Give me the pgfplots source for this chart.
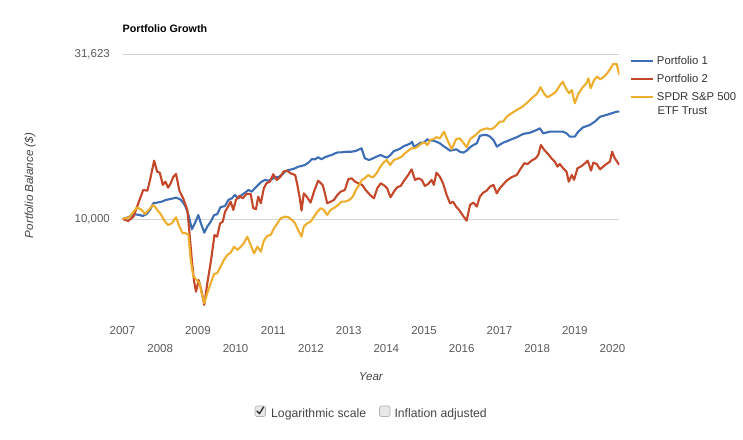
\documentclass[border=0pt]{standalone}
\usepackage{fontspec}
\setmainfont{Liberation Sans}
\usepackage{pgfplots}
\pgfplotsset{compat=1.18}

\definecolor{pfblue}{HTML}{3C6DB5}
\definecolor{pfred}{HTML}{C4472A}
\definecolor{pfgold}{HTML}{EDAE2E}
\definecolor{ticktext}{HTML}{5A5A5A}
\definecolor{labeltext}{HTML}{444444}
\definecolor{legendtext}{HTML}{333333}
\definecolor{gridgray}{HTML}{D4D4D4}

\newcommand{\tickfont}{\fontsize{11.5bp}{13bp}\selectfont}

\begin{document}
\begin{tikzpicture}
\path[use as bounding box] (0,0) rectangle (743bp,440bp);

% chart title
\node[anchor=base west, inner sep=0pt, font=\bfseries\fontsize{10.7bp}{12bp}\selectfont]
  at (122.5bp,407.9bp) {Portfolio Growth};

\begin{axis}[
  at={(122.5bp,121.7bp)}, anchor=south west,
  scale only axis, width=496.8bp, height=264.3bp,
  xmin=2007, xmax=2020.18,
  ymode=log, ymin=5000, ymax=31623,
  axis line style={draw=none}, tick style={draw=none},
  ytick={10000,31623}, yticklabels={{10,000},{31,623}},
  ymajorgrids, grid style={gridgray, line width=0.9bp},
  yticklabel style={anchor=east, inner sep=0pt, xshift=-12.5bp, font=\tickfont, text=ticktext},
  xtick={2007,2009,2011,2013,2015,2017,2019},
  xticklabels={2007,2009,2011,2013,2015,2017,2019},
  extra x ticks={2008,2010,2012,2014,2016,2018,2020},
  extra x tick labels={2008,2010,2012,2014,2016,2018,2020},
  extra x tick style={xticklabel style={yshift=-17.3bp}},
  xticklabel style={anchor=center, inner sep=0pt, yshift=-12.7bp, font=\tickfont, text=ticktext},
  xlabel={Year},
  xlabel style={at={(axis description cs:0.5,0)}, anchor=center, yshift=-58.7bp,
    font=\itshape\fontsize{11.6bp}{13bp}\selectfont, text=labeltext},
  legend style={at={(axis description cs:1,1)}, anchor=north west, xshift=10.7bp, yshift=-0.4bp,
    draw=none, fill=none, inner sep=0pt, row sep=4.1bp,
    font=\fontsize{11.3bp}{13bp}\selectfont, text=legendtext,
    cells={anchor=west, inner sep=0pt, text height=8.2bp, text depth=2.2bp},
    /tikz/every odd column/.append style={column sep=1bp}},
  legend image code/.code={\draw[#1, line width=2.1bp] (0bp,0bp) -- (21.7bp,0bp);},
  every axis plot/.append style={line width=2.1bp, line join=round},
]

\addplot[pfblue] coordinates {
(2007.00,10000) (2007.20,10160) (2007.33,10330) (2007.45,10280) (2007.54,10210) (2007.64,10355)
(2007.73,10650) (2007.82,11160) (2007.92,11210) (2008.04,11280) (2008.15,11420) (2008.28,11500)
(2008.42,11600) (2008.53,11470) (2008.61,11210) (2008.68,10850) (2008.75,10280) (2008.84,9310)
(2008.92,9700) (2009.01,10280) (2009.08,9700) (2009.17,9090) (2009.25,9480) (2009.34,9810)
(2009.43,10280) (2009.51,10330) (2009.60,10850) (2009.72,10950) (2009.81,11420) (2009.90,11550)
(2009.98,11820) (2010.07,11550) (2010.16,11820) (2010.25,12010) (2010.34,12240) (2010.43,12100)
(2010.51,12390) (2010.60,12680) (2010.69,12970) (2010.78,13130) (2010.87,13060) (2010.96,13190)
(2011.05,13380) (2011.13,13380) (2011.22,13590) (2011.31,13910) (2011.40,14070) (2011.49,14140)
(2011.58,14240) (2011.66,14400) (2011.75,14470) (2011.84,14580) (2011.93,14810) (2012.02,15170)
(2012.11,15170) (2012.19,15380) (2012.28,15170) (2012.37,15380) (2012.46,15520) (2012.55,15630)
(2012.64,15810) (2012.72,15920) (2012.81,15920) (2012.95,15990) (2013.08,15990) (2013.19,16070)
(2013.34,16380) (2013.43,15270) (2013.54,15090) (2013.65,15270) (2013.74,15450) (2013.85,15630)
(2013.94,15450) (2014.02,15340) (2014.11,15630) (2014.20,16070) (2014.29,16180) (2014.38,16380)
(2014.47,16640) (2014.55,16760) (2014.64,16950) (2014.68,17140) (2014.73,16570) (2014.82,16760)
(2014.91,17030) (2015.00,17030) (2015.09,17440) (2015.16,17270) (2015.24,17270) (2015.33,17140)
(2015.42,16950) (2015.51,16640) (2015.60,16380) (2015.69,16100) (2015.77,16180) (2015.86,16260)
(2015.95,15990) (2016.04,15880) (2016.13,16100) (2016.22,16490) (2016.31,16760) (2016.40,16950)
(2016.48,17850) (2016.57,17970) (2016.66,17970) (2016.75,17760) (2016.84,17360) (2016.93,16570)
(2017.10,17030) (2017.28,17360) (2017.46,17690) (2017.63,18100) (2017.81,18260) (2017.99,18610)
(2018.07,18830) (2018.16,18180) (2018.34,18390) (2018.52,18390) (2018.69,18390) (2018.78,18180)
(2018.87,17760) (2019.00,17760) (2019.09,18390) (2019.22,18960) (2019.40,19270) (2019.53,19720)
(2019.67,20410) (2019.84,20660) (2019.98,20910) (2020.11,21140) (2020.18,21140)
};
\addlegendentry{Portfolio 1}

\addplot[pfred] coordinates {
(2007.00,10000) (2007.15,9860) (2007.29,10160) (2007.42,11160) (2007.55,12240) (2007.66,12180)
(2007.73,13130) (2007.84,15020) (2007.92,13910) (2007.99,13810) (2008.07,12680) (2008.14,12970)
(2008.21,12440) (2008.28,12830) (2008.35,13430) (2008.42,13690) (2008.51,12180) (2008.61,11550)
(2008.72,10650) (2008.77,9260) (2008.84,7510) (2008.90,6460) (2008.95,6020) (2009.02,6530)
(2009.09,6090) (2009.17,5490) (2009.25,6390) (2009.35,7510) (2009.44,8940) (2009.51,8840)
(2009.59,9700) (2009.66,9810) (2009.72,10520) (2009.79,10850) (2009.87,11280) (2009.94,10650)
(2010.01,11420) (2010.10,11740) (2010.19,11550) (2010.29,11910) (2010.40,11910) (2010.47,10780)
(2010.54,10700) (2010.60,11680) (2010.67,11160) (2010.75,12390) (2010.82,12830) (2010.91,12970)
(2011.00,13660) (2011.09,13130) (2011.18,13380) (2011.27,13910) (2011.36,14010) (2011.46,13750)
(2011.58,13590) (2011.64,12680) (2011.71,11420) (2011.75,10600) (2011.81,11960) (2011.90,11630)
(2011.99,11210) (2012.08,12100) (2012.19,13060) (2012.31,12680) (2012.37,11960) (2012.43,11160)
(2012.52,11280) (2012.61,11420) (2012.70,11820) (2012.79,12100) (2012.90,12240) (2012.99,13190)
(2013.08,13280) (2013.17,12970) (2013.25,12830) (2013.36,12680) (2013.45,12240) (2013.57,11820)
(2013.67,11550) (2013.76,12390) (2013.85,12830) (2013.96,12590) (2014.02,12390) (2014.11,11630)
(2014.20,12100) (2014.29,12480) (2014.38,12590) (2014.47,13060) (2014.58,13590) (2014.67,14140)
(2014.76,13130) (2014.85,13280) (2014.94,13130) (2015.02,12590) (2015.11,12770) (2015.20,13130)
(2015.26,12680) (2015.33,13810) (2015.42,13430) (2015.51,12770) (2015.60,11820) (2015.69,11160)
(2015.77,11280) (2015.85,10900) (2015.93,10650) (2016.02,10280) (2016.13,9880) (2016.22,11030)
(2016.31,11210) (2016.40,10900) (2016.48,11680) (2016.57,12010) (2016.66,12180) (2016.75,12530)
(2016.84,12680) (2016.93,11960) (2017.01,12390) (2017.19,13060) (2017.32,13380) (2017.46,13590)
(2017.54,14070) (2017.66,14750) (2017.75,14680) (2017.85,15020) (2017.96,15270) (2018.03,15630)
(2018.10,16760) (2018.19,16180) (2018.29,15740) (2018.38,15270) (2018.47,14910) (2018.54,14400)
(2018.60,14680) (2018.69,14240) (2018.78,13910) (2018.84,12970) (2018.92,13590) (2018.98,13130)
(2019.07,14240) (2019.18,14470) (2019.27,14750) (2019.34,15020) (2019.43,14010) (2019.49,14810)
(2019.58,14680) (2019.67,14140) (2019.75,14400) (2019.84,14680) (2019.93,14910) (2019.99,15990)
(2020.06,15270) (2020.18,14580)
};
\addlegendentry{Portfolio 2}

\addplot[pfgold] coordinates {
(2007.00,10000) (2007.18,10120) (2007.29,10520) (2007.39,10850) (2007.51,10650) (2007.60,10355)
(2007.71,10700) (2007.82,11030) (2007.91,10700) (2008.01,10355) (2008.13,9810) (2008.21,9590)
(2008.31,9700) (2008.42,10120) (2008.51,9480) (2008.60,9050) (2008.68,9050) (2008.75,8940)
(2008.81,7510) (2008.88,6690) (2008.97,6530) (2009.04,6390) (2009.10,5960) (2009.17,5550)
(2009.25,5960) (2009.34,6390) (2009.43,6810) (2009.51,6850) (2009.60,7170) (2009.69,7510)
(2009.78,7780) (2009.87,7910) (2009.96,8240) (2010.05,8060) (2010.14,8240) (2010.22,8440)
(2010.31,8840) (2010.40,8340) (2010.49,7870) (2010.58,8240) (2010.67,7960) (2010.75,8600)
(2010.84,8880) (2010.93,8940) (2011.02,9370) (2011.11,9700) (2011.20,10050) (2011.31,10160)
(2011.40,10120) (2011.49,9930) (2011.58,9700) (2011.66,9260) (2011.75,8840) (2011.81,9480)
(2011.90,9700) (2011.99,9810) (2012.08,10160) (2012.17,10520) (2012.26,10780) (2012.34,10650)
(2012.43,10280) (2012.52,10650) (2012.64,10850) (2012.72,11030) (2012.81,11280) (2012.90,11280)
(2013.02,11420) (2013.11,11680) (2013.19,12240) (2013.28,12680) (2013.35,13130) (2013.43,13280)
(2013.52,13590) (2013.59,13430) (2013.65,13380) (2013.74,13750) (2013.83,14340) (2013.92,14810)
(2014.01,15090) (2014.10,14580) (2014.20,15090) (2014.32,15270) (2014.41,15450) (2014.49,15810)
(2014.58,16100) (2014.67,16380) (2014.76,16380) (2014.85,16640) (2014.94,16950) (2015.02,17030)
(2015.09,16760) (2015.16,17360) (2015.24,17440) (2015.33,17690) (2015.42,17560) (2015.53,18390)
(2015.62,17360) (2015.73,16260) (2015.85,17440) (2015.95,17560) (2016.04,17030) (2016.13,16490)
(2016.22,17440) (2016.31,17760) (2016.40,18100) (2016.48,18520) (2016.57,18700) (2016.66,18830)
(2016.75,18700) (2016.84,18830) (2016.93,19270) (2017.01,19720) (2017.10,19720) (2017.19,20410)
(2017.32,20910) (2017.46,21400) (2017.59,21810) (2017.72,22420) (2017.85,23210) (2017.99,23920)
(2018.09,25070) (2018.18,24040) (2018.27,23370) (2018.38,23750) (2018.50,24310) (2018.61,25480)
(2018.68,26070) (2018.76,24900) (2018.85,24040) (2018.92,24590) (2019.00,22420) (2019.09,23920)
(2019.21,25070) (2019.31,25790) (2019.36,26680) (2019.42,24900) (2019.51,26360) (2019.59,26990)
(2019.68,26490) (2019.77,26990) (2019.86,27640) (2019.95,28620) (2020.02,29490) (2020.11,29490)
(2020.18,27320)
};
\addlegendentry{SPDR S\&P 500}
\end{axis}

% second line of the third legend entry
\node[anchor=base west, inner sep=0pt, font=\fontsize{11.3bp}{13bp}\selectfont, text=legendtext]
  at (657.3bp,325.9bp) {ETF Trust};

% y axis title
\node[rotate=90, anchor=center, inner sep=0pt, font=\itshape\fontsize{11.6bp}{13bp}\selectfont, text=labeltext]
  at (30bp,254.5bp) {Portfolio Balance (\$)};

% option checkboxes below the chart
\draw[gray!60, fill=gray!18, rounded corners=1.5bp, line width=0.7bp]
  (255bp,23.5bp) rectangle (265.5bp,34bp);
\draw[black!80, line width=1.4bp, line cap=round, line join=round]
  (257bp,29bp) -- (259.4bp,26.3bp) -- (263.6bp,33bp);
\node[anchor=base west, inner sep=0pt, font=\fontsize{12.2bp}{14bp}\selectfont, text=labeltext]
  at (271bp,22.8bp) {Logarithmic scale};
\draw[gray!60, fill=gray!18, rounded corners=1.5bp, line width=0.7bp]
  (379.5bp,23.5bp) rectangle (390bp,34bp);
\node[anchor=base west, inner sep=0pt, font=\fontsize{12.2bp}{14bp}\selectfont, text=labeltext]
  at (394.3bp,22.8bp) {Inflation adjusted};
\end{tikzpicture}
\end{document}
